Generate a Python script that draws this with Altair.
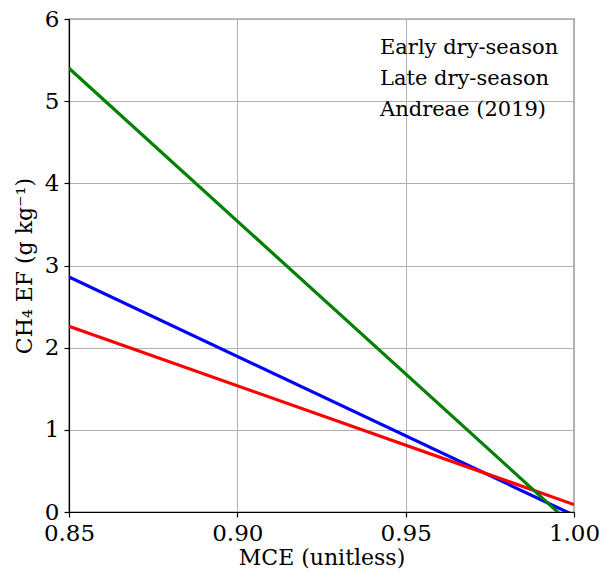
import altair as alt
import pandas as pd

# Straight lines given by their values at x=0.85 and x=1.00
series = ["Early dry-season", "Late dry-season", "Andreae (2019)"]
colors = ["#0000ff", "#ff0000", "#008000"]
mce = [0.85, 1.00]
early = [2.86, -0.04]
late = [2.26, 0.09]
andreae = [5.40, -0.18]

rows = []
for name, vals in zip(series, [early, late, andreae]):
    for x, y in zip(mce, vals):
        rows.append({"MCE": x, "EF": y, "series": name})
df = pd.DataFrame(rows)

FONT = "DejaVu Serif"

chart = alt.Chart(df).mark_line(strokeWidth=3.2, clip=True).encode(
    x=alt.X("MCE:Q",
            scale=alt.Scale(domain=[0.85, 1.00], nice=False, zero=False),
            axis=alt.Axis(title="MCE (unitless)", values=[0.85, 0.90, 0.95, 1.00],
                          format=".2f", labelFlush=False)),
    y=alt.Y("EF:Q",
            scale=alt.Scale(domain=[0, 6], nice=False),
            axis=alt.Axis(title="CH\u2084 EF (g kg\u207b\u00b9)", values=[0, 1, 2, 3, 4, 5, 6],
                          format="d", labelFlush=False)),
    color=alt.Color("series:N",
                    scale=alt.Scale(domain=series, range=colors),
                    legend=alt.Legend(title=None, orient="none", legendX=290, legendY=18,
                                      symbolOpacity=0, symbolSize=0, symbolStrokeWidth=0,
                                      labelOffset=0, labelFont=FONT, labelFontSize=21,
                                      labelColor="black", rowPadding=9, labelLimit=300)),
    order=alt.Order("series:N"),
).properties(
    width=505, height=493,
    autosize=alt.AutoSizeParams(type="none"),
    padding={"left": 61, "top": 11, "right": 27, "bottom": 57},
).configure_view(
    stroke="black", strokeWidth=1.2
).configure_axis(
    labelFont=FONT, labelFontSize=23, labelColor="black",
    titleFont=FONT, titleFontSize=22, titleColor="black", titleFontWeight="normal",
    domainColor="black", domainWidth=1.2, tickColor="black", tickSize=5, tickWidth=1.2,
    gridColor="#b0b0b0", gridWidth=1,
).configure_axisX(
    titlePadding=2, labelPadding=5
).configure_axisY(
    titlePadding=8, labelPadding=5
)

chart.save("out.html", embed_options={"renderer": "svg", "actions": False})
